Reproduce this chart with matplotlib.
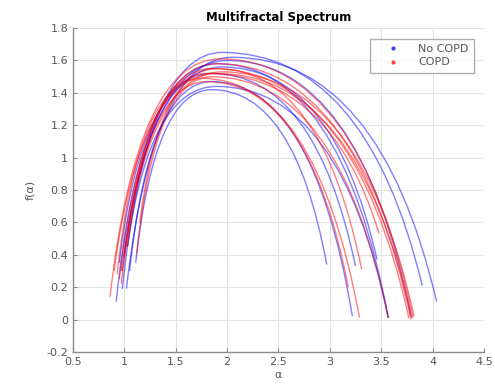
import matplotlib
matplotlib.use("Agg")
import matplotlib.pyplot as plt
from matplotlib.path import Path
from matplotlib.patches import PathPatch
from matplotlib.lines import Line2D
from matplotlib.ticker import FormatStrFormatter

# Spectres : extrémité gauche, sommet, extrémité droite
# No COPD (bleu)
nc_amin = [0.98, 1.02, 0.97, 0.92, 1.00, 1.05, 0.95, 1.11, 1.03]
nc_fmin = [0.19, 0.19, 0.30, 0.11, 0.40, 0.30, 0.35, 0.35, 0.45]
nc_a0 = [1.95, 2.05, 2.00, 1.90, 1.95, 1.85, 1.85, 1.85, 1.90]
nc_fmax = [1.65, 1.62, 1.60, 1.58, 1.56, 1.47, 1.52, 1.42, 1.44]
nc_amax = [3.90, 4.04, 3.79, 3.57, 3.46, 3.22, 3.25, 2.97, 3.57]
nc_fend = [0.21, 0.11, 0.02, 0.01, 0.37, 0.02, 0.33, 0.34, 0.01]

# COPD (rouge)
c_amin = [0.86, 0.95, 1.00, 0.98, 1.03, 1.12, 1.15, 0.93, 0.97, 0.90]
c_fmin = [0.14, 0.25, 0.38, 0.30, 0.45, 0.41, 0.60, 0.28, 0.22, 0.30]
c_a0 = [1.93, 1.90, 1.85, 1.95, 1.80, 1.85, 1.90, 1.75, 1.80, 1.90]
c_fmax = [1.61, 1.58, 1.55, 1.53, 1.52, 1.50, 1.55, 1.49, 1.47, 1.52]
c_amax = [3.81, 3.79, 3.77, 3.82, 3.48, 3.57, 3.31, 3.29, 3.18, 3.80]
c_fend = [0.01, 0.00, 0.01, 0.02, 0.53, 0.01, 0.31, 0.01, 0.20, 0.01]

XTICKS = [0.5, 1, 1.5, 2, 2.5, 3, 3.5, 4, 4.5]
YTICKS = [-0.2, 0, 0.2, 0.4, 0.6, 0.8, 1, 1.2, 1.4, 1.6, 1.8]


def spectrum(ax, a_min, f_min, a0, f_max, a_max, f_end, color):
    # deux arcs quadratiques : branche gauche puis branche droite
    verts = [
        (a_min, f_min),
        (a_min + 0.25 * (a0 - a_min), f_max),
        (a0, f_max),
        (a0 + 0.72 * (a_max - a0), f_max),
        (a_max, f_end),
    ]
    codes = [Path.MOVETO, Path.CURVE3, Path.CURVE3, Path.CURVE3, Path.CURVE3]
    ax.add_patch(PathPatch(Path(verts, codes), facecolor="none",
                           edgecolor=color, alpha=0.5, lw=1.0))


fig = plt.figure(figsize=(4.95, 3.85), dpi=100)
ax = fig.add_axes([0.1475, 0.086, 0.830, 0.841])

for i in range(len(nc_amin)):
    spectrum(ax, nc_amin[i], nc_fmin[i], nc_a0[i], nc_fmax[i],
             nc_amax[i], nc_fend[i], "#0000ff")
for i in range(len(c_amin)):
    spectrum(ax, c_amin[i], c_fmin[i], c_a0[i], c_fmax[i],
             c_amax[i], c_fend[i], "#ff0000")

ax.set_xlim(0.5, 4.5)
ax.set_ylim(-0.2, 1.8)
ax.set_xticks(XTICKS)
ax.set_yticks(YTICKS)
ax.xaxis.set_major_formatter(FormatStrFormatter("%g"))
ax.yaxis.set_major_formatter(FormatStrFormatter("%g"))
ax.grid(True, color="#e3e3e3", lw=0.8)
ax.set_axisbelow(True)
for side in ["top", "right"]:
    ax.spines[side].set_visible(False)
for side in ["left", "bottom"]:
    ax.spines[side].set_color("#8a8a8a")
    ax.spines[side].set_linewidth(1.0)
ax.tick_params(direction="in", length=3, colors="#8a8a8a",
               labelcolor="#555555", labelsize=8)

ax.set_title("Multifractal Spectrum", fontsize=8.5, fontweight="bold", pad=5)
ax.set_xlabel("α", fontsize=8, color="#555555", labelpad=2)
ax.set_ylabel("f(α)", fontsize=8, color="#555555", labelpad=8)

handles = [
    Line2D([], [], marker=".", linestyle="none", color="#4040ff", markersize=4),
    Line2D([], [], marker=".", linestyle="none", color="#ff4040", markersize=4),
]
leg = ax.legend(handles, ["No COPD", "COPD"], loc="upper right",
                fontsize=8, fancybox=False, edgecolor="#9a9a9a",
                handlelength=3.0, borderpad=0.5, labelspacing=0.3,
                bbox_to_anchor=(0.99, 0.985))
for t in leg.get_texts():
    t.set_color("#555555")

fig.savefig("out.png", dpi=100)
